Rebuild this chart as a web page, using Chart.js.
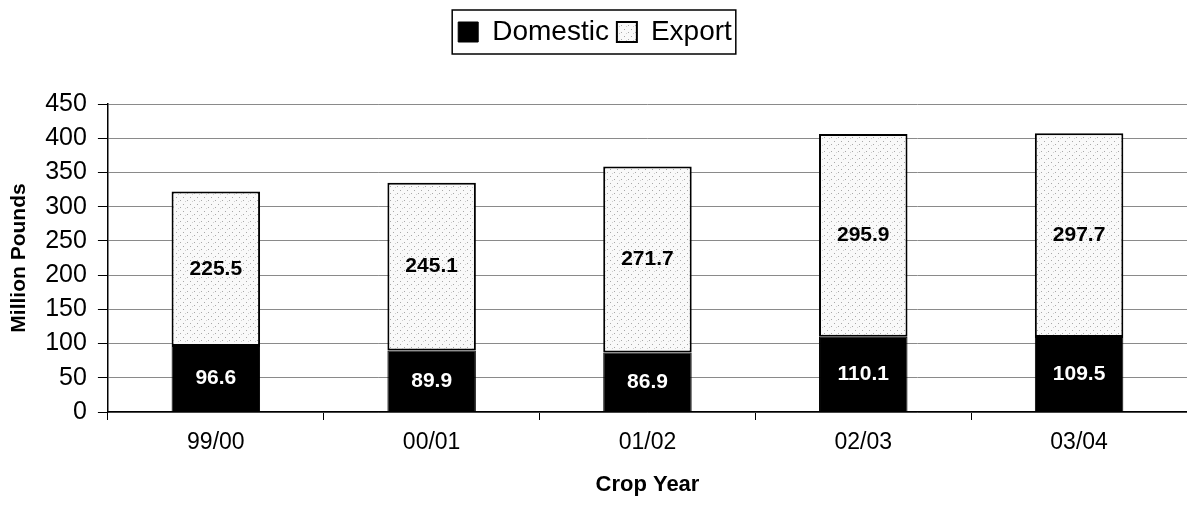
<!DOCTYPE html>
<html>
<head>
<meta charset="utf-8">
<script src="https://cdn.jsdelivr.net/npm/chart.js@4.4.1/dist/chart.umd.min.js"></script>
<style>
  body { margin: 0; background: #fff; }
  #wrap { width: 1187px; height: 506px; }
</style>
</head>
<body>
<div id="wrap"><canvas id="graficCrop"></canvas></div>
<script>
let anos = ['99/00', '00/01', '01/02', '02/03', '03/04']
let domestic = [96.6, 89.9, 86.9, 110.1, 109.5]
let exportVal = [225.5, 245.1, 271.7, 295.9, 297.7]
let yTicks = [0, 50, 100, 150, 200, 250, 300, 350, 400, 450]

const fonte = '"Liberation Sans", Arial, sans-serif'

// textura pontilhada clara para a serie Export
function pontilhado() {
    const c = document.createElement('canvas')
    c.width = 7; c.height = 7
    const ctx = c.getContext('2d')
    ctx.fillStyle = '#f9f9f9'
    ctx.fillRect(0, 0, 7, 7)
    ctx.fillStyle = '#a8a8a8'
    ctx.fillRect(1, 1, 1, 1)
    ctx.fillRect(5, 4, 1, 1)
    ctx.fillStyle = '#d0d0d0'
    ctx.fillRect(3, 5, 1, 1)
    return ctx.createPattern(c, 'repeat')
}

// espaco extra abaixo da legenda
const espacoLegenda = {
    id: 'espacoLegenda',
    beforeInit(chart) {
        const fitOrig = chart.legend.fit
        chart.legend.fit = function () {
            fitOrig.bind(chart.legend)()
            this.height += 48
        }
    }
}

// caixa em volta da legenda
const bordaLegenda = {
    id: 'bordaLegenda',
    afterDraw(chart) {
        const boxes = chart.legend.legendHitBoxes
        if (!boxes || !boxes.length) return
        let l = Math.min(...boxes.map(b => b.left))
        let r = Math.max(...boxes.map(b => b.left + b.width))
        let t = Math.min(...boxes.map(b => b.top))
        let btm = Math.max(...boxes.map(b => b.top + b.height))
        const ctx = chart.ctx
        ctx.save()
        ctx.strokeStyle = '#000'
        ctx.lineWidth = 1.5
        ctx.strokeRect(l - 6, t - 8, r - l + 10, btm - t + 16)
        ctx.restore()
    }
}

// valores dentro das barras
const rotulos = {
    id: 'rotulos',
    afterDatasetsDraw(chart) {
        const ctx = chart.ctx
        ctx.save()
        ctx.font = 'bold 21px ' + fonte
        ctx.textAlign = 'center'
        ctx.textBaseline = 'middle'
        chart.data.datasets.forEach((ds, i) => {
            chart.getDatasetMeta(i).data.forEach((bar, j) => {
                const meio = (bar.y + bar.base) / 2
                ctx.fillStyle = i === 0 ? '#fff' : '#000'
                ctx.fillText(ds.data[j].toFixed(1), bar.x, meio)
            })
        })
        ctx.restore()
    }
}

const graficCrop = document.getElementById('graficCrop')

new Chart(graficCrop, {
    type: 'bar',
    data: {
        labels: anos,
        datasets: [{
            label: 'Domestic',
            data: domestic,
            backgroundColor: '#000',
            borderColor: '#000',
            borderWidth: 1,
            categoryPercentage: 1,
            barPercentage: 0.41
        }, {
            label: 'Export',
            data: exportVal,
            backgroundColor: pontilhado(),
            borderColor: '#000',
            borderWidth: 2,
            borderSkipped: false,
            categoryPercentage: 1,
            barPercentage: 0.41
        }]
    },
    options: {
        responsive: true,
        maintainAspectRatio: false,
        animation: false,
        layout: { padding: { top: 10, right: 0, left: 3, bottom: 4 } },
        plugins: {
            legend: {
                position: 'top',
                labels: {
                    color: '#000',
                    font: { family: fonte, size: 28 },
                    boxWidth: 20,
                    boxHeight: 20,
                    padding: 8
                }
            },
            tooltip: { enabled: false }
        },
        scales: {
            x: {
                stacked: true,
                offset: true,
                grid: { drawOnChartArea: false, color: '#000', tickLength: 8, offset: true },
                border: { color: '#000', width: 1.5 },
                ticks: { color: '#000', font: { family: fonte, size: 23 }, padding: 9 },
                title: {
                    display: true,
                    text: 'Crop Year',
                    color: '#000',
                    font: { family: fonte, size: 22, weight: 'bold' },
                    padding: { top: 6 }
                }
            },
            y: {
                stacked: true,
                min: 0,
                max: 450,
                afterBuildTicks: axis => { axis.ticks = yTicks.map(v => ({ value: v })) },
                grid: { color: '#8a8a8a', tickColor: '#000', tickLength: 10, lineWidth: 1 },
                border: { color: '#000', width: 1.5 },
                ticks: { color: '#000', font: { family: fonte, size: 25 }, padding: 11 },
                title: {
                    display: true,
                    text: 'Million Pounds',
                    color: '#000',
                    font: { family: fonte, size: 21, weight: 'bold' },
                    padding: { bottom: 2 }
                }
            }
        }
    },
    plugins: [rotulos, bordaLegenda, espacoLegenda]
})
</script>
</body>
</html>
